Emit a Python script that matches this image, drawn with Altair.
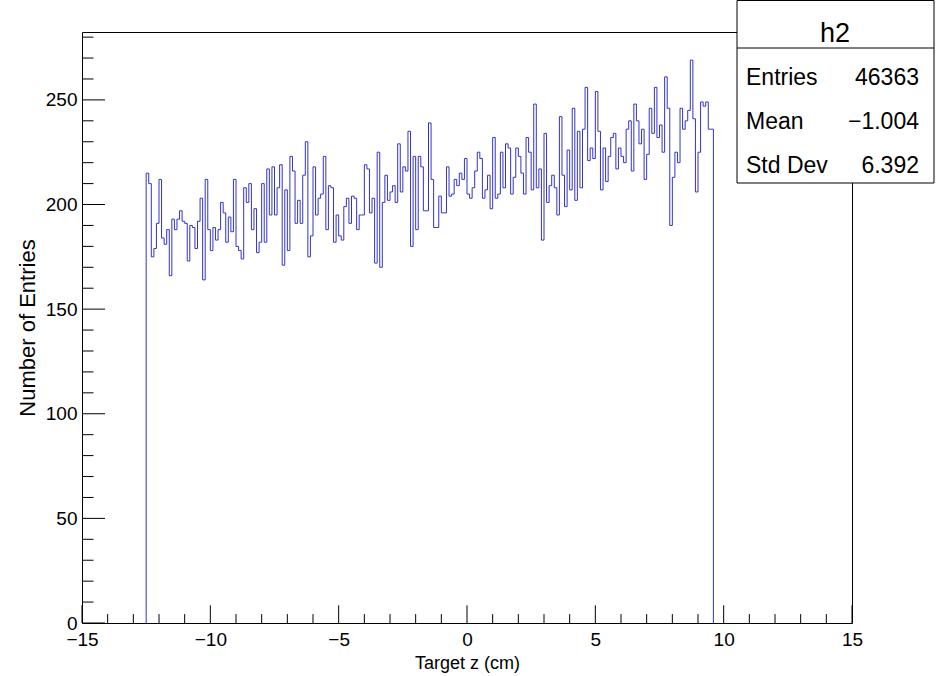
import altair as alt
import pandas as pd

# ---------------- data ----------------
bin_low = -12.5
bin_width = 0.1
counts = [
    215, 210, 175, 179, 191, 212, 184, 181, 188, 166, 193, 188, 193, 197, 192, 191, 173, 190,
    189, 179, 192, 203, 164, 212, 188, 178, 189, 183, 188, 201, 196, 182, 194, 187, 212, 180,
    178, 174, 208, 201, 210, 188, 198, 177, 182, 210, 182, 217, 195, 218, 195, 208, 219, 171,
    207, 178, 223, 216, 191, 202, 191, 214, 230, 175, 185, 218, 195, 203, 205, 223, 188, 209, 208,
    182, 195, 185, 183, 199, 203, 191, 204, 203, 188, 195, 195, 219, 217, 196, 203, 172, 225,
    170, 201, 214, 202, 206, 209, 201, 229, 206, 218, 216, 235, 180, 223, 188, 223, 218, 197, 197,
    239, 212, 189, 189, 204, 196, 196, 218, 204, 205, 212, 209, 215, 212, 222, 205, 203, 208, 216,
    225, 222, 203, 207, 214, 198, 232, 203, 205, 225, 208, 229, 227, 205, 213, 227, 223, 215, 205,
    232, 225, 207, 248, 208, 217, 183, 234, 201, 209, 214, 208, 195, 242, 214, 199, 226, 207,
    246, 202, 235, 208, 236, 256, 221, 227, 222, 254, 235, 207, 227, 211, 223, 232, 234, 217, 227,
    223, 220, 236, 240, 216, 248, 240, 229, 236, 212, 224, 246, 234, 256, 232, 238, 225, 261,
    246, 190, 213, 225, 220, 246, 236, 240, 245, 269, 241, 206, 225, 249, 247, 249, 236, 236,
]

x_domain = [-15, 15]
y_top = 282.45
x_major_ticks = [-15, -10, -5, 0, 5, 10, 15]
x_minor_ticks = [-14, -13, -12, -11, -9, -8, -7, -6, -4, -3, -2, -1,
                 1, 2, 3, 4, 6, 7, 8, 9, 11, 12, 13, 14]
y_major_ticks = [0, 50, 100, 150, 200, 250]
y_minor_ticks = [10, 20, 30, 40, 60, 70, 80, 90, 110, 120, 130, 140, 160, 170, 180, 190,
                 210, 220, 230, 240, 260, 270, 280]

stat_title = "h2"
stat_labels = ["Entries", "Mean", "Std Dev"]
stat_values = ["46363", "\u22121.004", "6.392"]

x_title = "Target z (cm)"
y_title = "Number of Entries"

# ---------------- build step outline ----------------
n = len(counts)
x_hi = round(bin_low + n * bin_width, 4)
rows = [{"i": 0, "x": bin_low, "y": 0}]
for k, c in enumerate(counts):
    rows.append({"i": k + 1, "x": round(bin_low + k * bin_width, 4), "y": c})
rows.append({"i": n + 1, "x": x_hi, "y": counts[-1]})
rows.append({"i": n + 2, "x": x_hi, "y": 0})
step_df = pd.DataFrame(rows)

W, H = 770, 591
FONT = "Liberation Sans"
LINE = "#3333cc"

xscale = alt.Scale(domain=x_domain, nice=False, zero=False)
yscale = alt.Scale(domain=[0, y_top], nice=False, zero=False)

x_axis = alt.Axis(
    values=x_major_ticks, format="d", title=x_title, ticks=False, domain=False,
    grid=False, labelFont=FONT, labelFontSize=19, labelPadding=7, labelColor="black",
    labelFlush=False, labelOverlap=False,
    titleFont=FONT, titleFontSize=18, titleFontWeight="normal", titleColor="black",
    titleX=385, titleY=45, titleBaseline="alphabetic", titleAlign="center")
y_axis = alt.Axis(
    values=y_major_ticks, format="d", title=y_title, ticks=False, domain=False,
    grid=False, labelFont=FONT, labelFontSize=19, labelPadding=5, labelColor="black",
    labelFlush=False, labelOverlap=False,
    titleFont=FONT, titleFontSize=22, titleFontWeight="normal", titleColor="black",
    titleAngle=270, titleX=-48, titleY=295.5, titleBaseline="alphabetic",
    titleAlign="center")

hist = alt.Chart(step_df).mark_line(
    interpolate="step-after", color=LINE, strokeWidth=1
).encode(
    x=alt.X("x:Q", scale=xscale, axis=x_axis),
    y=alt.Y("y:Q", scale=yscale, axis=y_axis),
    order=alt.Order("i:Q"),
)

def xticks(vals, length):
    return alt.Chart(pd.DataFrame({"x": vals})).mark_rule(color="black", strokeWidth=1).encode(
        x=alt.X("x:Q", scale=xscale, axis=x_axis),
        y=alt.value(H), y2=alt.value(H - length))

def yticks(vals, length):
    return alt.Chart(pd.DataFrame({"y": vals})).mark_rule(color="black", strokeWidth=1).encode(
        y=alt.Y("y:Q", scale=yscale, axis=y_axis),
        x=alt.value(0), x2=alt.value(length))

one = alt.Data(values=[{"a": 1}])

box = alt.Chart(one).mark_rect(fill="white", stroke="black", strokeWidth=1).encode(
    x=alt.value(655), x2=alt.value(852), y=alt.value(-31.5), y2=alt.value(151))
sep = alt.Chart(one).mark_rule(color="black", strokeWidth=1).encode(
    x=alt.value(655), x2=alt.value(852), y=alt.value(16))

texts = [
    alt.Chart(pd.DataFrame({"t": [stat_title]})).mark_text(
        font=FONT, fontSize=27, align="center", baseline="alphabetic", color="black"
    ).encode(x=alt.value(753), y=alt.value(10), text="t:N")
]
for row_y, lab, val in zip([53, 97, 141], stat_labels, stat_values):
    texts.append(alt.Chart(pd.DataFrame({"t": [lab]})).mark_text(
        font=FONT, fontSize=23, align="left", baseline="alphabetic", color="black"
    ).encode(x=alt.value(664), y=alt.value(row_y), text="t:N"))
    texts.append(alt.Chart(pd.DataFrame({"t": [val]})).mark_text(
        font=FONT, fontSize=23, align="right", baseline="alphabetic", color="black"
    ).encode(x=alt.value(837), y=alt.value(row_y), text="t:N"))

chart = alt.layer(
    hist,
    xticks(x_major_ticks, 17.7), xticks(x_minor_ticks, 8.9),
    yticks(y_major_ticks, 23), yticks(y_minor_ticks, 11.5),
    box, sep, *texts,
).properties(
    width=W, height=H,
    autosize=alt.AutoSizeParams(type="none"),
    padding={"left": 82, "top": 32, "right": 86, "bottom": 53},
    background="white",
).configure_view(stroke="black", strokeWidth=1)

chart.save("out.html", embed_options={"renderer": "svg", "actions": False})
